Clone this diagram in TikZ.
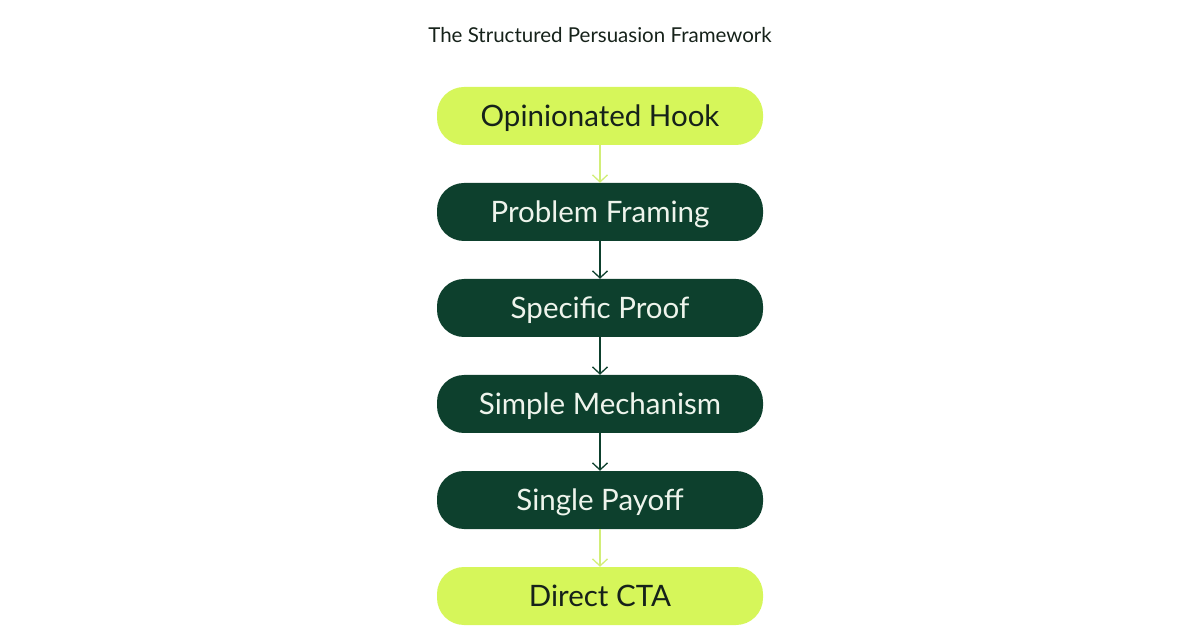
\documentclass[tikz,border=0pt]{standalone}
\usepackage{fontspec}
\setmainfont{Lato}
\usetikzlibrary{positioning,arrows.meta}

\definecolor{lime}{HTML}{D6F65A}
\definecolor{limeline}{HTML}{D2EE78}
\definecolor{forest}{HTML}{0D402D}
\definecolor{ink}{HTML}{16221A}
\definecolor{paper}{HTML}{EEF4EC}

\begin{document}
\begin{tikzpicture}[x=1pt,y=1pt,
    stage/.style={rounded corners=27pt, minimum width=326pt, minimum height=58pt,
      inner sep=0pt, text height=21pt, text depth=0pt, font=\fontsize{29.5}{34}\selectfont},
    hot/.style={stage, fill=lime, text=ink},
    calm/.style={stage, fill=forest, text=paper},
    flow/.style={-{Straight Barb[length=7pt,width=15pt]}, line width=1.3pt}]
    % Frame
    \useasboundingbox (0,0) rectangle (1200,630);

    % Title
    \node[text=ink, font=\fontsize{20.5}{24}\selectfont] (title) at (600,595) {The Structured Persuasion Framework};

    % Stages
    \node[hot]  (hook)      at (600,514) {Opinionated Hook};
    \node[calm] (framing)   at (600,418) {Problem Framing};
    \node[calm] (proof)     at (600,322) {Specific Proof};
    \node[calm] (mechanism) at (600,226) {Simple Mechanism};
    \node[calm] (payoff)    at (600,130) {Single Payoff};
    \node[hot]  (cta)       at (600,34)  {Direct CTA};

    % Arrows
    \draw[flow, limeline] (hook) -- (framing);
    \foreach \a/\b in {framing/proof, proof/mechanism, mechanism/payoff} {
        \draw[flow, forest] (\a) -- (\b);
      }
    \draw[flow, limeline] (payoff) -- (cta);
  \end{tikzpicture}
\end{document}
